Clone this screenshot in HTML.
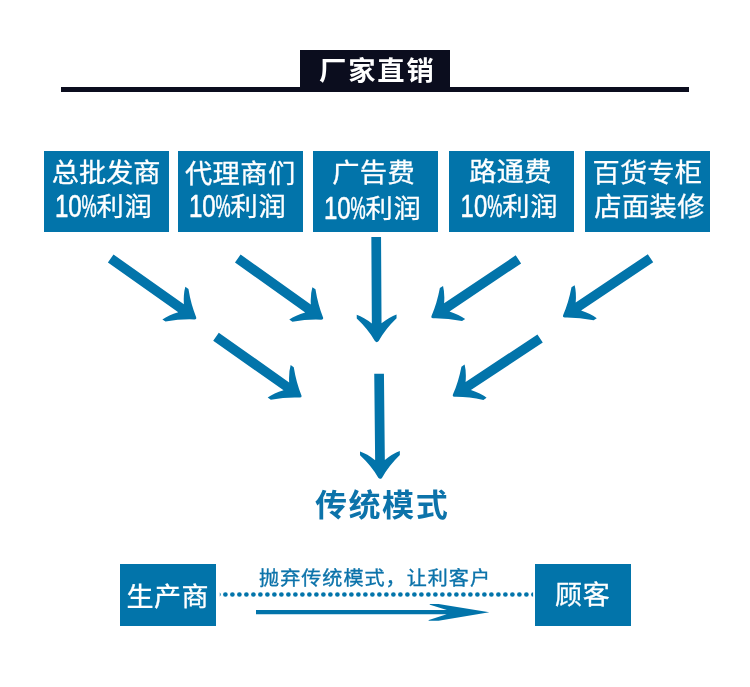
<!DOCTYPE html>
<html lang="zh-CN">
<head>
<meta charset="utf-8">
<title>厂家直销</title>
<style>
html,body{margin:0;padding:0;background:#fff;}
body{width:750px;height:687px;overflow:hidden;}
#art{display:block;width:750px;height:687px;will-change:transform;}
#art text{font-family:"Liberation Sans","Noto Sans CJK SC",sans-serif;white-space:pre;}
.w{fill:#fff;}
.b{fill:#0c73aa;}
.hd{font-weight:700;font-size:26.5px;}
.bx{font-size:26px;stroke:#fff;stroke-width:0.3px;}
.num{font-size:32px;stroke:#fff;stroke-width:0.6px;}
.mid{font-weight:700;font-size:30.5px;}
.sb{font-size:26px;stroke:#fff;stroke-width:0.3px;}
.cap{font-size:19px;stroke:#0c73aa;stroke-width:0.35px;}
</style>
</head>
<body>
<svg id="art" width="750" height="687" viewBox="0 0 750 687">
<g id="shapes">
<rect x="61" y="87" width="628" height="5" fill="#0b0d1e"/>
<rect x="300" y="50" width="150" height="40" fill="#0b0d1e"/>
<g fill="#0274aa">
<rect x="44" y="151" width="125" height="81"/>
<rect x="178" y="151" width="125" height="81"/>
<rect x="313" y="151" width="125" height="81"/>
<rect x="449" y="151" width="125" height="81"/>
<rect x="585" y="151" width="125" height="81"/>
<rect x="120" y="564" width="96" height="62"/>
<rect x="535" y="564" width="96" height="62"/>
<path transform="translate(196.50 319.10) rotate(35.23)" d="M-105.04,-4.85 L-18.9,-4.85 Q-25.2,-12.8 -27.7,-19.9 L-23.9,-19.9 Q-13,-8.8 -1.6,-1.5 Q0.6,0 -1.6,1.5 Q-13,8.8 -23.9,19.9 L-27.7,19.9 Q-25.2,12.8 -18.9,4.85 L-105.04,4.85 Z"/>
<path transform="translate(323.40 319.40) rotate(35.43)" d="M-105.05,-4.85 L-18.9,-4.85 Q-25.2,-12.8 -27.7,-19.9 L-23.9,-19.9 Q-13,-8.8 -1.6,-1.5 Q0.6,0 -1.6,1.5 Q-13,8.8 -23.9,19.9 L-27.7,19.9 Q-25.2,12.8 -18.9,4.85 L-105.05,4.85 Z"/>
<path transform="translate(376.80 342.70) rotate(89.67)" d="M-105.70,-4.85 L-19.3,-4.85 Q-25.6,-12.8 -28.1,-19.9 L-24.3,-19.9 Q-13.6,-8.6 -1.7,-1.9 Q0.6,0 -1.7,1.9 Q-13.6,8.6 -24.3,19.9 L-28.1,19.9 Q-25.6,12.8 -19.3,4.85 L-105.70,4.85 Z"/>
<path transform="translate(431.10 317.90) rotate(146.17)" d="M-105.09,-4.85 L-18.9,-4.85 Q-25.2,-12.8 -27.7,-19.9 L-23.9,-19.9 Q-13,-8.8 -1.6,-1.5 Q0.6,0 -1.6,1.5 Q-13,8.8 -23.9,19.9 L-27.7,19.9 Q-25.2,12.8 -18.9,4.85 L-105.09,4.85 Z"/>
<path transform="translate(562.70 317.10) rotate(146.19)" d="M-105.67,-4.85 L-18.9,-4.85 Q-25.2,-12.8 -27.7,-19.9 L-23.9,-19.9 Q-13,-8.8 -1.6,-1.5 Q0.6,0 -1.6,1.5 Q-13,8.8 -23.9,19.9 L-27.7,19.9 Q-25.2,12.8 -18.9,4.85 L-105.67,4.85 Z"/>
<path transform="translate(301.80 397.30) rotate(35.23)" d="M-105.04,-4.85 L-18.9,-4.85 Q-25.2,-12.8 -27.7,-19.9 L-23.9,-19.9 Q-13,-8.8 -1.6,-1.5 Q0.6,0 -1.6,1.5 Q-13,8.8 -23.9,19.9 L-27.7,19.9 Q-25.2,12.8 -18.9,4.85 L-105.04,4.85 Z"/>
<path transform="translate(452.50 396.50) rotate(146.49)" d="M-105.06,-4.85 L-18.9,-4.85 Q-25.2,-12.8 -27.7,-19.9 L-23.9,-19.9 Q-13,-8.8 -1.6,-1.5 Q0.6,0 -1.6,1.5 Q-13,8.8 -23.9,19.9 L-27.7,19.9 Q-25.2,12.8 -18.9,4.85 L-105.06,4.85 Z"/>
<path transform="translate(380.20 479.40) rotate(89.40)" d="M-105.71,-4.85 L-19.3,-4.85 Q-25.6,-12.8 -28.1,-19.9 L-24.3,-19.9 Q-13.6,-8.6 -1.7,-1.9 Q0.6,0 -1.7,1.9 Q-13.6,8.6 -24.3,19.9 L-28.1,19.9 Q-25.6,12.8 -19.3,4.85 L-105.71,4.85 Z"/>
<path d="M256,609.9 L446.9,609.9 L430,604.7 L429.5,603.9 L438.5,603.9 L489.3,612.2 L438.5,620.7 L428.4,620.7 L428.9,620 L446.7,614.2 L256,614.2 Z"/>
</g>
<clipPath id="dc"><rect x="219.8" y="590" width="313.3" height="9"/></clipPath>
<line x1="218.4" y1="594.5" x2="534" y2="594.5" stroke="#0274aa" stroke-width="4.7" stroke-linecap="round" stroke-dasharray="0 7" clip-path="url(#dc)"/>
</g>
<g id="labels">
<text id="hd" class="w hd" transform="translate(319.08 80.00) scale(1.0300 1.0000)" style="letter-spacing:1.78px">厂家直销</text>
<g id="box1">
<text id="b1a" class="w bx" transform="translate(51.69 182.00) scale(1.0500 1.0000)" style="letter-spacing:-0.08px">总批发商</text>
<text id="b1n" class="w num" transform="translate(55.00 216.50) scale(0.7512 1.0000)">10</text><text id="b1p" class="w num" transform="translate(81.45 216.50) scale(0.5344 1.0000)">%</text><text id="b1b" class="w bx" transform="translate(96.61 215.70) scale(1.0500 1.0000)" style="letter-spacing:0.46px">利润</text>
</g>
<g id="box2">
<text id="b2a" class="w bx" transform="translate(184.88 182.80) scale(1.0500 1.0000)" style="letter-spacing:0.38px">代理商们</text>
<text id="b2n" class="w num" transform="translate(189.00 216.50) scale(0.7512 1.0000)">10</text><text id="b2p" class="w num" transform="translate(215.45 216.50) scale(0.5344 1.0000)">%</text><text id="b2b" class="w bx" transform="translate(230.61 215.70) scale(1.0500 1.0000)" style="letter-spacing:0.46px">利润</text>
</g>
<g id="box3">
<text id="b3a" class="w bx" transform="translate(332.15 182.30) scale(1.0500 1.0000)" style="letter-spacing:0.39px">广告费</text>
<text id="b3n" class="w num" transform="translate(324.00 218.50) scale(0.7512 1.0000)">10</text><text id="b3p" class="w num" transform="translate(350.45 218.50) scale(0.5344 1.0000)">%</text><text id="b3b" class="w bx" transform="translate(365.61 217.80) scale(1.0500 1.0000)" style="letter-spacing:0.46px">利润</text>
</g>
<g id="box4">
<text id="b4a" class="w bx" transform="translate(469.35 181.00) scale(1.0500 1.0000)" style="letter-spacing:0.16px">路通费</text>
<text id="b4n" class="w num" transform="translate(460.62 216.50) scale(0.7454 1.0000)">10</text><text id="b4p" class="w num" transform="translate(487.35 216.50) scale(0.5319 1.0000)">%</text><text id="b4b" class="w bx" transform="translate(502.24 215.70) scale(1.0500 1.0000)" style="letter-spacing:0.67px">利润</text>
</g>
<g id="box5">
<text id="b5a" class="w bx" transform="translate(592.58 182.30) scale(1.0500 1.0000)" style="letter-spacing:0.08px">百货专柜</text>
<text id="b5b" class="w bx" transform="translate(594.20 216.00) scale(1.0500 1.0000)" style="letter-spacing:0.40px">店面装修</text>
</g>
<text id="mid" class="b mid" transform="translate(314.90 515.80) scale(1.0500 1.0000)" style="letter-spacing:1.50px">传统模式</text>
<text id="sbL" class="w sb" transform="translate(126.43 606.10) scale(1.0400 1.0000)" style="letter-spacing:0.54px">生产商</text>
<text id="cap" class="b cap" transform="translate(259.12 584.50) scale(1.0600 1.0000)" style="letter-spacing:0.90px">抛弃传统模式，让利客户</text>
<text id="sbR" class="w sb" transform="translate(555.04 604.00) scale(1.0400 1.0000)" style="letter-spacing:0.76px">顾客</text>
</g>
</svg>
</body>
</html>
